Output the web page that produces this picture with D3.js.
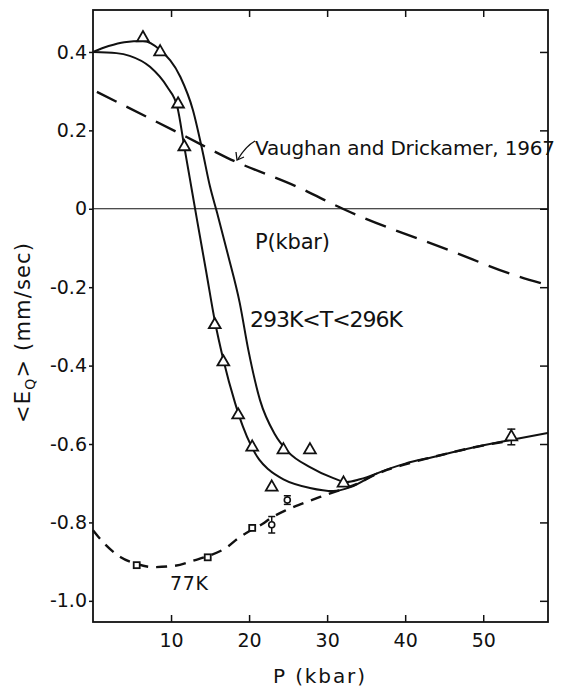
<!DOCTYPE html>
<html>
<head>
<meta charset="utf-8">
<script src="https://cdn.jsdelivr.net/npm/d3@7"></script>
<style>
  html, body { margin: 0; padding: 0; background: #fff; }
  svg { display: block; }
  text { font-family: "DejaVu Sans", sans-serif; fill: #111; }
</style>
</head>
<body>
<svg id="chart" width="561" height="688"></svg>
<script>
// ---------- data ----------
const xTicks = [10, 20, 30, 40, 50];
const yTicks = [0.4, 0.2, 0, -0.2, -0.4, -0.6, -0.8, -1.0];
const yTickLabels = ["0.4", "0.2", "0", "-0.2", "-0.4", "-0.6", "-0.8", "-1.0"];

// room temperature (293K<T<296K) triangles
const triP = [6.4, 8.6, 10.9, 11.7, 15.6, 16.7, 18.6, 20.4, 22.9, 24.4, 27.8, 32.1, 53.6];
const triE = [0.436, 0.400, 0.267, 0.158, -0.296, -0.391, -0.526, -0.608, -0.710, -0.615, -0.615, -0.700, -0.582];
const triErr = [0, 0, 0, 0, 0, 0, 0, 0, 0, 0, 0, 0, 0.02];

// 77K squares
const sqP = [5.6, 14.7, 20.4];
const sqE = [-0.909, -0.889, -0.814];

// 77K circles with error bars
const ciP = [22.9, 24.9];
const ciE = [-0.806, -0.743];
const ciErr = [0.021, 0.011];

// solid curve (left / lower)
const curveAP = [0, 3, 4.7, 7.3, 9.5, 10.8, 11.7, 12.4, 13.3, 14.5, 15.6, 16.7, 18.2, 19.2, 20.3, 21.3, 22.5, 24.4, 27.8, 30.8, 33, 36.4, 40, 43.6, 48, 53.5, 58.3];
const curveAE = [0.400, 0.397, 0.390, 0.362, 0.311, 0.260, 0.158, 0.078, -0.025, -0.160, -0.285, -0.385, -0.495, -0.555, -0.606, -0.640, -0.665, -0.690, -0.712, -0.720, -0.710, -0.675, -0.650, -0.633, -0.612, -0.590, -0.572];

// solid curve (right / upper)
const curveBP = [0, 2, 4, 6.4, 8.6, 11.2, 12.8, 14.0, 15.0, 15.9, 17.3, 18.8, 19.9, 21.4, 23.3, 25, 27.8, 30.8, 32.5, 34.2, 36.4];
const curveBE = [0.400, 0.415, 0.425, 0.428, 0.405, 0.336, 0.252, 0.150, 0.056, -0.010, -0.118, -0.240, -0.360, -0.488, -0.575, -0.620, -0.659, -0.687, -0.697, -0.690, -0.675];

// 77K dashed curve
const curveCP = [0, 1.5, 3.5, 5.6, 7.7, 10.3, 13.1, 14.7, 17.2, 18.5, 20.4, 21.7, 22.7, 24.6, 26.8, 29.1, 31.7, 34, 36.4, 40, 43.6, 48, 53.3];
const curveCE = [-0.820, -0.855, -0.888, -0.906, -0.914, -0.911, -0.896, -0.886, -0.863, -0.842, -0.818, -0.804, -0.790, -0.770, -0.752, -0.735, -0.717, -0.700, -0.676, -0.652, -0.633, -0.612, -0.592];

// Vaughan and Drickamer, 1967 (long dash)
const curveVP = [0.5, 12, 17.2, 26.5, 32, 46.2, 53.8, 58.3];
const curveVE = [0.298, 0.183, 0.130, 0.053, 0.0, -0.110, -0.168, -0.195];

// ---------- layout ----------
const svg = d3.select("#chart");
const L = 93, R = 548, T = 10, B = 622;
const x = d3.scaleLinear().domain([0, 58.3]).range([L, R]);
const y = d3.scaleLinear().domain([-1.054, 0.507]).range([B, T]);

const zip = (a, b) => a.map((v, i) => [v, b[i]]);
const line = d3.line().x(d => x(d[0])).y(d => y(d[1])).curve(d3.curveMonotoneX);

// zero line
svg.append("line").attr("x1", L).attr("x2", R).attr("y1", y(0)).attr("y2", y(0))
  .attr("stroke", "#111").attr("stroke-width", 1.2);

// axes
const axL = svg.append("g").attr("transform", `translate(${L},0)`)
  .call(d3.axisLeft(y).tickValues(yTicks).tickFormat((d, i) => yTickLabels[i]).tickSizeInner(4).tickSizeOuter(0).tickPadding(2));
const axB = svg.append("g").attr("transform", `translate(0,${B})`)
  .call(d3.axisBottom(x).tickValues(xTicks).tickFormat(d3.format("d")).tickSizeInner(-7).tickSizeOuter(0).tickPadding(12));
const axT = svg.append("g").attr("transform", `translate(0,${T})`)
  .call(d3.axisTop(x).tickValues(xTicks).tickFormat("").tickSizeInner(-7).tickSizeOuter(0));
const axR = svg.append("g").attr("transform", `translate(${R},0)`)
  .call(d3.axisRight(y).tickValues(yTicks).tickFormat("").tickSizeInner(-8).tickSizeOuter(0));
[axL, axB, axT, axR].forEach(g => {
  g.select(".domain").remove();
  g.selectAll(".tick line").attr("stroke", "#111").attr("stroke-width", 1.5);
  g.selectAll(".tick text").attr("font-size", 19).attr("fill", "#111")
    .attr("font-family", "DejaVu Sans, sans-serif");
});

// frame
svg.append("rect").attr("x", L).attr("y", T).attr("width", R - L).attr("height", B - T)
  .attr("fill", "none").attr("stroke", "#111").attr("stroke-width", 1.8);

// curves
svg.append("path").datum(zip(curveVP, curveVE)).attr("d", line)
  .attr("fill", "none").attr("stroke", "#111").attr("stroke-width", 2.4).attr("stroke-dasharray", "22,11");
svg.append("path").datum(zip(curveCP, curveCE)).attr("d", line)
  .attr("fill", "none").attr("stroke", "#111").attr("stroke-width", 2.4).attr("stroke-dasharray", "11,8");
svg.append("path").datum(zip(curveAP, curveAE)).attr("d", line)
  .attr("fill", "none").attr("stroke", "#111").attr("stroke-width", 2);
svg.append("path").datum(zip(curveBP, curveBE)).attr("d", line)
  .attr("fill", "none").attr("stroke", "#111").attr("stroke-width", 2);

// triangles
const triSym = d3.symbol().type(d3.symbolTriangle).size(60);
const tri = svg.append("g");
zip(triP, triE).forEach((d, i) => {
  if (triErr[i] > 0) {
    const e = triErr[i];
    tri.append("line").attr("x1", x(d[0])).attr("x2", x(d[0])).attr("y1", y(d[1] - e)).attr("y2", y(d[1] + e)).attr("stroke", "#111").attr("stroke-width", 1.5);
    [d[1] - e, d[1] + e].forEach(v => tri.append("line").attr("x1", x(d[0]) - 4).attr("x2", x(d[0]) + 4).attr("y1", y(v)).attr("y2", y(v)).attr("stroke", "#111").attr("stroke-width", 1.5));
  }
  tri.append("path").attr("d", triSym).attr("transform", `translate(${x(d[0])},${y(d[1])})`)
    .attr("fill", "#fff").attr("stroke", "#111").attr("stroke-width", 1.8);
});

// squares
svg.append("g").selectAll("rect").data(zip(sqP, sqE)).join("rect")
  .attr("x", d => x(d[0]) - 3).attr("y", d => y(d[1]) - 3).attr("width", 6).attr("height", 6)
  .attr("fill", "#fff").attr("stroke", "#111").attr("stroke-width", 1.8);

// circles with error bars
const ci = svg.append("g");
zip(ciP, ciE).forEach((d, i) => {
  const e = ciErr[i];
  ci.append("line").attr("x1", x(d[0])).attr("x2", x(d[0])).attr("y1", y(d[1] - e)).attr("y2", y(d[1] + e)).attr("stroke", "#111").attr("stroke-width", 1.5);
  [d[1] - e, d[1] + e].forEach(v => ci.append("line").attr("x1", x(d[0]) - 3.5).attr("x2", x(d[0]) + 3.5).attr("y1", y(v)).attr("y2", y(v)).attr("stroke", "#111").attr("stroke-width", 1.5));
  ci.append("circle").attr("cx", x(d[0])).attr("cy", y(d[1])).attr("r", 3)
    .attr("fill", "#fff").attr("stroke", "#111").attr("stroke-width", 1.6);
});

// text labels
const txt = (s, tx, ty, size, anchor) => svg.append("text").attr("x", tx).attr("y", ty)
  .attr("font-size", size).attr("text-anchor", anchor || "start").text(s);
txt("Vaughan and Drickamer, 1967", 255, 155, 20).attr("textLength", 300);
txt("P(kbar)", 255, 249, 21).attr("textLength", 75);
txt("293K<T<296K", 250, 327, 22).attr("textLength", 153);
txt("77K", 170, 590, 19).attr("textLength", 38);
txt("P  (kbar)", 319, 683, 20, "middle").attr("textLength", 92);

// arrow
svg.append("path").attr("d", "M255,141 Q246,146 238,159").attr("fill", "none").attr("stroke", "#111").attr("stroke-width", 1.3);
svg.append("path").attr("d", "M236,152 L237,160 L244,157").attr("fill", "none").attr("stroke", "#111").attr("stroke-width", 1.3);

// y label
const yl = svg.append("text").attr("transform", "translate(30,333) rotate(-90)")
  .attr("text-anchor", "middle").attr("font-size", 21).attr("textLength", 180);
yl.append("tspan").text("<E");
yl.append("tspan").attr("font-size", 14).attr("dy", 5).text("Q");
yl.append("tspan").attr("dy", -5).text(">  (mm/sec)");
</script>
</body>
</html>
